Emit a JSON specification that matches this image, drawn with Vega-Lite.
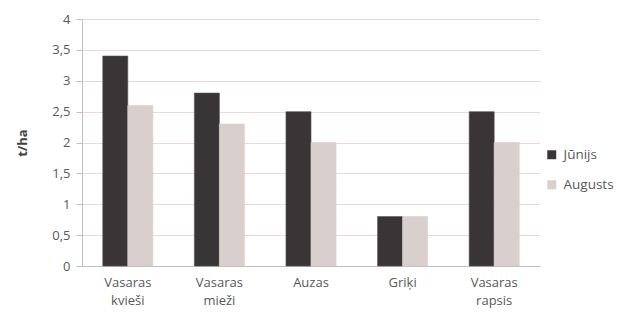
{
  "$schema": "https://vega.github.io/schema/vega-lite/v6.json",
  "autosize": {"type": "none"},
  "padding": {"left": 82, "top": 19, "right": 84, "bottom": 52},
  "width": 458,
  "height": 247,
  "background": "white",
  "data": {
    "values": [
      {"kultura": "Vasaras kvieši", "menesis": "Jūnijs", "raza": 3.4},
      {"kultura": "Vasaras kvieši", "menesis": "Augusts", "raza": 2.6},
      {"kultura": "Vasaras mieži", "menesis": "Jūnijs", "raza": 2.8},
      {"kultura": "Vasaras mieži", "menesis": "Augusts", "raza": 2.3},
      {"kultura": "Auzas", "menesis": "Jūnijs", "raza": 2.5},
      {"kultura": "Auzas", "menesis": "Augusts", "raza": 2.0},
      {"kultura": "Griķi", "menesis": "Jūnijs", "raza": 0.8},
      {"kultura": "Griķi", "menesis": "Augusts", "raza": 0.8},
      {"kultura": "Vasaras rapsis", "menesis": "Jūnijs", "raza": 2.5},
      {"kultura": "Vasaras rapsis", "menesis": "Augusts", "raza": 2.0}
    ]
  },
  "config": {
    "view": {"stroke": null},
    "font": "Open Sans",
    "axis": {"labelFont": "Open Sans", "titleFont": "Open Sans"},
    "legend": {"labelFont": "Open Sans"}
  },
  "mark": {"type": "bar", "strokeWidth": 0.6},
  "encoding": {
    "x": {
      "field": "kultura",
      "type": "nominal",
      "sort": null,
      "scale": {"paddingInner": 0, "paddingOuter": 0},
      "axis": {
        "title": null,
        "labelAngle": 0,
        "labelExpr": "split(datum.label, ' ')",
        "labelFontSize": 13,
        "labelColor": "#595959",
        "labelPadding": 10,
        "labelLineHeight": 18,
        "labelBaseline": "top",
        "ticks": false,
        "domainColor": "#bfbfbf",
        "domainWidth": 1
      }
    },
    "xOffset": {
      "field": "menesis",
      "type": "nominal",
      "sort": ["Jūnijs", "Augusts"],
      "scale": {"paddingInner": 0, "paddingOuter": 0.83}
    },
    "y": {
      "field": "raza",
      "type": "quantitative",
      "scale": {"domain": [0, 4], "nice": false},
      "axis": {
        "title": "t/ha",
        "titleFontSize": 13,
        "titleFontWeight": "bold",
        "titleColor": "#404040",
        "titlePadding": 22,
        "values": [0, 0.5, 1, 1.5, 2, 2.5, 3, 3.5, 4],
        "labelExpr": "replace(format(datum.value, '~g'), '.', ',')",
        "labelFontSize": 13,
        "labelColor": "#595959",
        "labelPadding": 6,
        "tickSize": 6,
        "tickColor": "#bfbfbf",
        "domainColor": "#bfbfbf",
        "gridColor": "#ecd8d6",
        "gridWidth": 1
      }
    },
    "color": {
      "field": "menesis",
      "type": "nominal",
      "sort": ["Jūnijs", "Augusts"],
      "scale": {"domain": ["Jūnijs", "Augusts"], "range": ["#393536", "#d9cfcc"]},
      "legend": {
        "title": null,
        "orient": "none",
        "legendX": 463,
        "legendY": 129,
        "symbolType": "square",
        "symbolSize": 80,
        "symbolStrokeWidth": 0,
        "labelFontSize": 13.5,
        "labelColor": "#595959",
        "rowPadding": 15,
        "labelOffset": 5
      }
    },
    "stroke": {
      "field": "menesis",
      "type": "nominal",
      "scale": {"domain": ["Jūnijs", "Augusts"], "range": ["#555050", "#d9cfcc"]},
      "legend": null
    }
  }
}
